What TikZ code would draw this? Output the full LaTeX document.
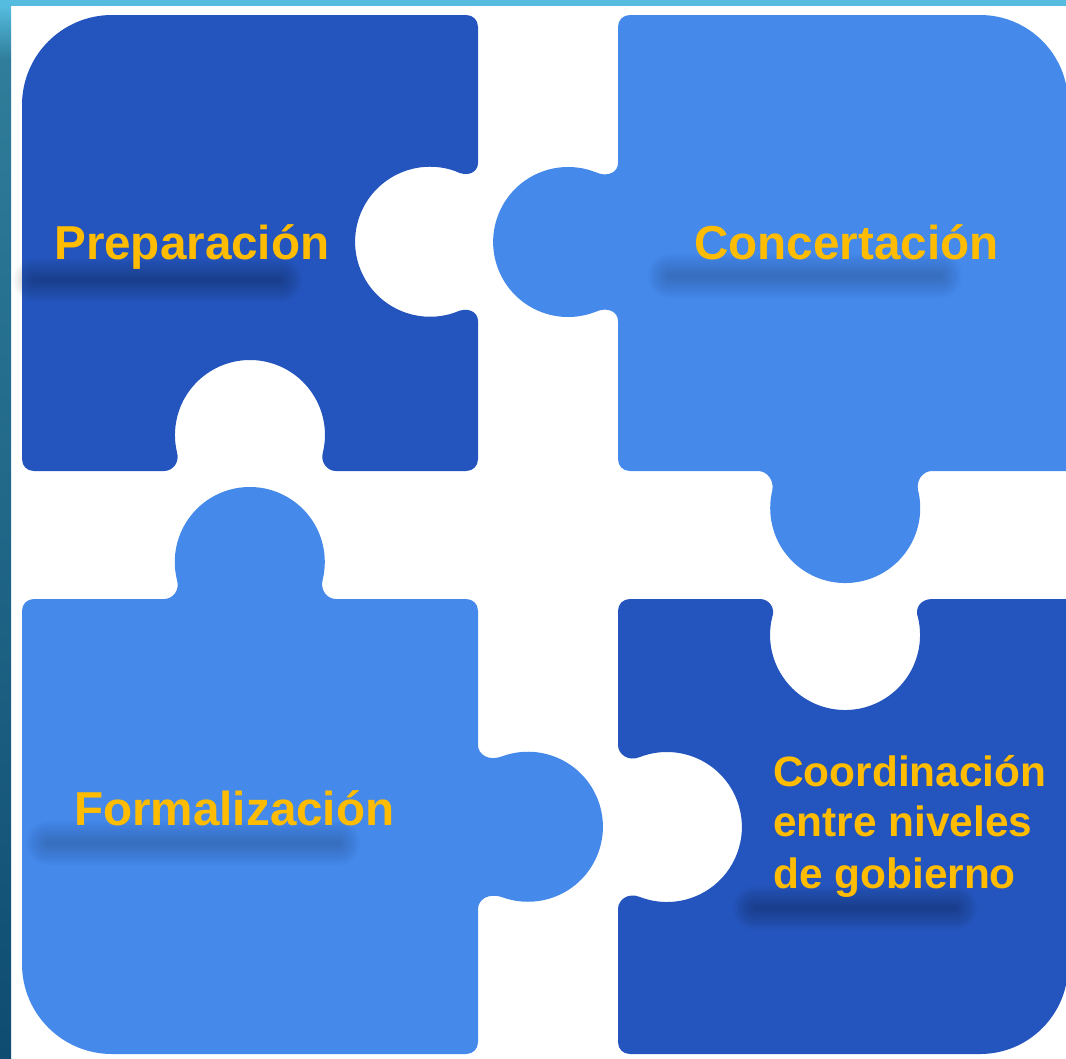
\documentclass[tikz,border=0pt]{standalone}
\usepackage{fontspec}
\setmainfont{Liberation Sans}
\definecolor{darkpiece}{HTML}{2454BD}
\definecolor{lightpiece}{HTML}{4589EA}
\definecolor{labelgold}{HTML}{FFBC00}
\definecolor{barlight}{HTML}{55BCE0}
\definecolor{barmid}{HTML}{2F7D9A}
\definecolor{bardark}{HTML}{0F4C72}
\tikzset{
  piecedark/.style={fill=darkpiece},
  piecelight/.style={fill=lightpiece},
  bigtitle/.style={text=labelgold,font=\fontsize{35.7}{40}\selectfont\bfseries,inner sep=0pt,anchor=base west},
  smalltitle/.style={text=labelgold,font=\fontsize{31.8}{39}\selectfont\bfseries,inner sep=0pt,anchor=base west},
}
\newcommand{\smudge}[4]{%
  \foreach \wd in {44,40,36,32,28,24,20,16,12,8,4}{%
    \draw[line width=\wd*0.75pt,line cap=round,draw=black,opacity=#4] (#1,#3) -- (#2,#3);}%
}
\begin{document}
\begin{tikzpicture}[x=0.75pt,y=-0.75pt]
\useasboundingbox (0,0) rectangle (1066,1058);
\clip (0,0) rectangle (1066,1058);
\fill[white] (0,0) rectangle (1066,1058);

% Preparacion
\fill[piecedark] (22,105) arc[start angle=180,end angle=270,radius=90]
  -- (466,15) .. controls (473,15) and (478,20) .. (478,27)
  -- (478,163) .. controls (478,172) and (468,178) .. (455,171)
  arc[start angle=-70.6,end angle=-289.4,radius=75]
  .. controls (468,306) and (478,312) .. (478,321)
  -- (478,459) .. controls (478,466) and (473,471) .. (466,471)
  -- (336,471) .. controls (327,471) and (320,462) .. (323,452)
  arc[start angle=13.1,end angle=-193.1,radius=75]
  .. controls (180,462) and (173,471) .. (164,471)
  -- (34,471) .. controls (27,471) and (22,466) .. (22,459) -- cycle;

% Concertacion
\fill[piecelight] (618,27) .. controls (618,20) and (623,15) .. (630,15)
  -- (980,15) arc[start angle=-90,end angle=0,radius=88]
  -- (1068,471) -- (932,471) .. controls (923,471) and (916,480) .. (918,490)
  arc[start angle=-13.9,end angle=193.9,radius=75]
  .. controls (774,480) and (767,471) .. (758,471)
  -- (630,471) .. controls (623,471) and (618,466) .. (618,459)
  -- (618,321) .. controls (618,312) and (608,306) .. (595,312)
  arc[start angle=69,end angle=291,radius=75]
  .. controls (608,178) and (618,172) .. (618,163) -- cycle;

% Formalizacion
\fill[piecelight] (22,611) .. controls (22,604) and (27,599) .. (34,599)
  -- (164,599) .. controls (173,599) and (180,590) .. (177,580)
  arc[start angle=166.1,end angle=373.9,radius=75]
  .. controls (320,590) and (327,599) .. (336,599)
  -- (466,599) .. controls (473,599) and (478,604) .. (478,611)
  -- (478,745) .. controls (478,754) and (488,762) .. (503,756)
  arc[start angle=-109.4,end angle=109.4,radius=75]
  .. controls (488,892) and (478,900) .. (478,909)
  -- (478,1042) .. controls (478,1049) and (473,1054) .. (466,1054)
  -- (112,1054) arc[start angle=90,end angle=180,radius=90] -- cycle;

% Coordinacion
\fill[piecedark] (630,599) -- (760,599) .. controls (769,599) and (776,608) .. (772,618)
  arc[start angle=193.1,end angle=-13.1,radius=75]
  .. controls (914,608) and (921,599) .. (932,599)
  -- (1068,599) -- (1068,966) arc[start angle=0,end angle=90,radius=88]
  -- (630,1054) .. controls (623,1054) and (618,1049) .. (618,1042)
  -- (618,909) .. controls (618,900) and (628,892) .. (640,897)
  arc[start angle=111,end angle=-111,radius=75]
  .. controls (628,762) and (618,754) .. (618,745)
  -- (618,611) .. controls (618,604) and (623,599) .. (630,599) -- cycle;

% smudges
\smudge{35}{280}{280}{0.022}
\smudge{670}{940}{276}{0.016}
\smudge{48}{338}{843}{0.016}
\smudge{755}{955}{908}{0.022}

\node[bigtitle] (prep) at (54,259) {Preparación};
\node[bigtitle] (conc) at (694,259) {Concertación};
\node[bigtitle] (form) at (74,825) {Formalización};
\node[smalltitle] (coor1) at (773,786) {Coordinación};
\node[smalltitle] (coor2) at (773,836) {entre niveles};
\node[smalltitle] (coor3) at (773,888) {de gobierno};

% frame
\fill[barlight] (0,0) rectangle (1066,6);
\shade[top color=barlight,bottom color=barmid] (0,6) rectangle (11,60);
\shade[top color=barmid,bottom color=bardark] (0,60) rectangle (11,1058);
\end{tikzpicture}
\end{document}
